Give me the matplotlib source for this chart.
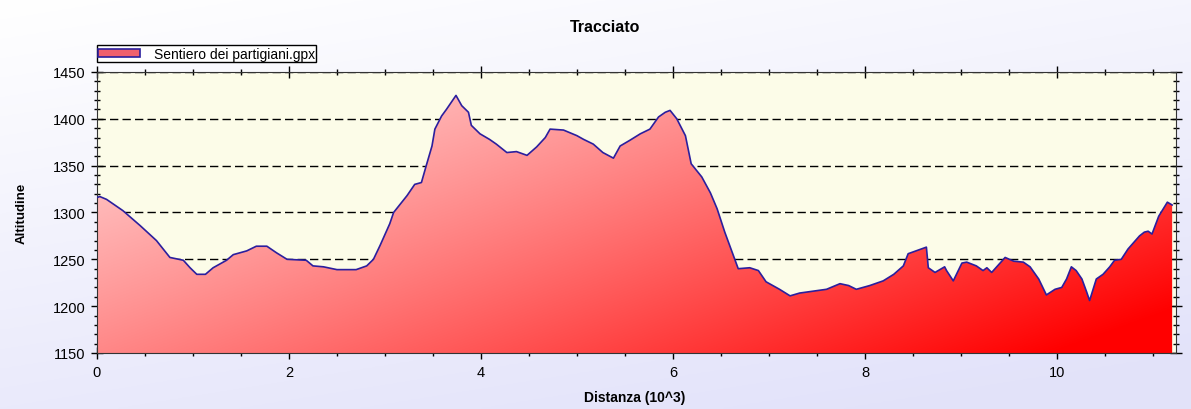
import numpy as np
import matplotlib
matplotlib.use("Agg")
import matplotlib.pyplot as plt
from matplotlib.patches import Patch, PathPatch
from matplotlib.ticker import MultipleLocator

plt.rcParams['font.family'] = ['Liberation Sans', 'DejaVu Sans']

# track profile: distance (km, 10^3 m) and altitude (m)
dist = [0.00, 0.03, 0.10, 0.27, 0.45, 0.62, 0.76, 0.90, 0.97, 1.04, 1.13, 1.21,
        1.35, 1.42, 1.56, 1.66, 1.77, 1.87, 1.98, 2.18, 2.25, 2.36, 2.50, 2.70,
        2.81, 2.88, 2.95, 3.05, 3.09, 3.23, 3.31, 3.38, 3.43, 3.49, 3.52, 3.59,
        3.64, 3.74, 3.80, 3.87, 3.90, 3.99, 4.09, 4.16, 4.27, 4.37, 4.48, 4.58,
        4.67, 4.72, 4.86, 5.00, 5.07, 5.17, 5.27, 5.38, 5.45, 5.55, 5.66, 5.76,
        5.85, 5.92, 5.97, 6.04, 6.13, 6.19, 6.30, 6.39, 6.46, 6.54, 6.63, 6.68,
        6.80, 6.89, 6.97, 7.11, 7.22, 7.32, 7.46, 7.60, 7.74, 7.83, 7.91, 8.05,
        8.19, 8.30, 8.40, 8.45, 8.56, 8.64, 8.66, 8.73, 8.83, 8.85, 8.92, 9.01,
        9.06, 9.16, 9.23, 9.27, 9.32, 9.39, 9.46, 9.55, 9.65, 9.72, 9.81, 9.89,
        9.98, 10.05, 10.10, 10.15, 10.20, 10.26, 10.31, 10.34, 10.41, 10.48,
        10.55, 10.60, 10.67, 10.74, 10.86, 10.91, 10.95, 10.99, 11.06, 11.15,
        11.20]
alt = [1316, 1317, 1314, 1302, 1286, 1270, 1252, 1249, 1241, 1234, 1234, 1241,
       1249, 1255, 1259, 1264, 1264, 1257, 1250, 1249, 1243, 1242, 1239, 1239,
       1243, 1250, 1265, 1288, 1300, 1318, 1330, 1332, 1350, 1371, 1389, 1403,
       1410, 1425, 1414, 1407, 1393, 1384, 1378, 1373, 1364, 1365, 1361, 1370,
       1380, 1389, 1388, 1382, 1378, 1373, 1364, 1358, 1371, 1377, 1384, 1389,
       1402, 1407, 1409, 1400, 1382, 1352, 1338, 1321, 1304, 1279, 1254, 1240,
       1241, 1238, 1226, 1218, 1211, 1214, 1216, 1218, 1224, 1222, 1218, 1222,
       1227, 1234, 1243, 1256, 1260, 1263, 1241, 1236, 1242, 1238, 1227, 1246,
       1247, 1243, 1238, 1241, 1236, 1244, 1252, 1248, 1247, 1242, 1229, 1212,
       1218, 1220, 1229, 1242, 1238, 1229, 1215, 1206, 1229, 1234,
       1242, 1249, 1250, 1261, 1275, 1279, 1280, 1277, 1296, 1311,
       1308]
track_name = "Sentiero dei partigiani.gpx"

x_max = 11.24
y_min, y_max = 1150, 1450

fig = plt.figure(figsize=(11.91, 4.10), dpi=100)

# figure background: white top-left to light lavender bottom-right
bg = fig.add_axes([0, 0, 1, 1], zorder=-10)
gy, gx = np.mgrid[0:1:200j, 0:1:400j]
tb = np.clip(0.35 * gx + 0.75 * gy, 0, 1)[..., None]
c0 = np.array([1.0, 1.0, 1.0])
c1 = np.array([0.89, 0.89, 0.98])
bg.imshow(c0 * (1 - tb) + c1 * tb, aspect='auto', extent=[0, 1, 0, 1])
bg.axis('off')

ax = fig.add_axes([0.0814, 0.1366, 0.9060, 0.6854])
ax.set_facecolor('#fcfce8')

# gradient fill under the profile
poly = ax.fill_between(dist, alt, y_min, facecolor='none', edgecolor='none')
clip = PathPatch(poly.get_paths()[0], facecolor='none', edgecolor='none',
                 transform=ax.transData)
ax.add_patch(clip)
v, u = np.mgrid[1:0:200j, 0:1:600j]
t = np.clip(0.62 * u + 0.45 * (1 - v), 0, 1) ** 1.25
t = t[..., None]
top = np.array([1.0, 0.84, 0.84])
bottom = np.array([1.0, 0.0, 0.0])
img = ax.imshow(top * (1 - t) + bottom * t, aspect='auto',
                extent=[0, x_max, y_min, y_max], zorder=2)
img.set_clip_path(clip)

ax.plot(dist, alt, color='#2b1f9e', lw=1.2, zorder=3)

ax.set_xlim(0, x_max)
ax.set_ylim(y_min, y_max)
ax.xaxis.set_major_locator(MultipleLocator(2))
ax.xaxis.set_minor_locator(MultipleLocator(0.5))
ax.yaxis.set_major_locator(MultipleLocator(50))
ax.yaxis.set_minor_locator(MultipleLocator(10))
ax.tick_params(which='major', direction='inout', length=9, width=1,
               labelsize=10.5, top=True, right=True, pad=4)
ax.tick_params(which='minor', direction='inout', length=5, width=1,
               top=True, right=True)
ax.yaxis.grid(True, linestyle=(0, (6, 3)), color='black', lw=1)
ax.set_axisbelow(True)
for s in ax.spines.values():
    s.set_color('#333333')

handle = Patch(facecolor='#f0606e', edgecolor='#2b1f9e', lw=1.2)
leg = ax.legend([handle], [track_name], loc='lower left',
                bbox_to_anchor=(0.0, 1.035), fontsize=10, frameon=True,
                fancybox=False, edgecolor='black', framealpha=1,
                borderpad=0.1, handlelength=3.0, handleheight=0.45,
                borderaxespad=0, handletextpad=1.0)
leg.get_frame().set_linewidth(1)

fig.text(0.508, 0.934, "Tracciato", ha='center', va='center',
         fontsize=11.5, fontweight='bold')
fig.text(0.533, 0.029, "Distanza (10^3)", ha='center', va='center',
         fontsize=10, fontweight='bold')
fig.text(0.018, 0.48, "Altitudine", ha='center', va='center',
         fontsize=9.5, fontweight='bold', rotation=90)

fig.savefig("out.png", dpi=100)
